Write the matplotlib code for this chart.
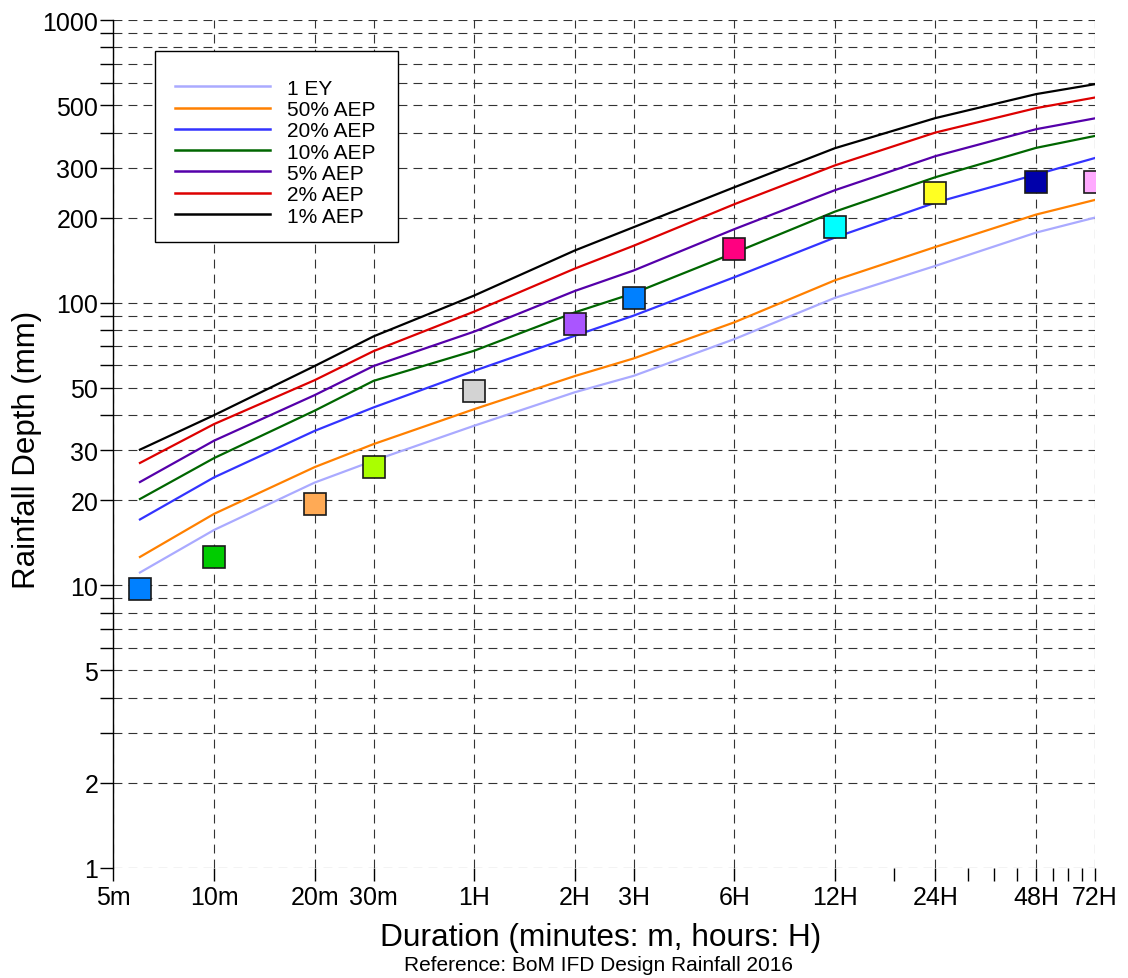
import numpy as np
import matplotlib
matplotlib.use("Agg")
import matplotlib.pyplot as plt
from matplotlib.patches import Rectangle

plt.rcParams['font.family'] = ['Liberation Sans', 'DejaVu Sans']

# durations in minutes
durations = [6, 10, 20, 30, 60, 120, 180, 360, 720, 1440, 2880, 4320]

# design rainfall depths (mm)
ey1 = [11.1, 15.7, 23.1, 27.6, 36.7, 48.2, 55.1, 74.3, 104, 135, 177, 200]
aep50 = [12.6, 17.9, 26.2, 31.6, 42.0, 55.0, 63.5, 85.2, 120, 157.5, 205, 231]
aep20 = [17.1, 24.1, 35.2, 42.6, 57.4, 76.4, 90.0, 123, 170, 226, 284, 325]
aep10 = [20.2, 28.2, 41.5, 52.9, 67.6, 92.4, 108, 150, 210, 278, 353, 389]
aep5 = [23.2, 32.5, 47.1, 59.7, 79.0, 110, 130, 182, 250, 330, 411, 449]
aep2 = [27.1, 37.2, 53.2, 67.4, 93.0, 132, 159, 223, 306, 400, 488, 532]
aep1 = [30.2, 40.0, 59.7, 76.0, 106, 153, 185, 256, 352, 450, 547, 593]

series_names = ['1 EY', '50% AEP', '20% AEP', '10% AEP', '5% AEP', '2% AEP', '1% AEP']
series_vals = [ey1, aep50, aep20, aep10, aep5, aep2, aep1]
series_cols = ['#AAAAFF', '#FF8000', '#3333FF', '#006600', '#5500AA', '#DD0000', '#000000']

# observed maxima (squares)
obs_dur = [6, 10, 20, 30, 60, 120, 180, 360, 720, 1440, 2880, 4320]
obs_val = [9.7, 12.6, 19.4, 26.2, 48.6, 84.2, 104, 155, 186, 245, 268, 268]
obs_col = ['#0080FF', '#00CC00', '#FFAA55', '#AAFF00', '#D3D3D3', '#AA55FF',
           '#0080FF', '#FF0080', '#00FFFF', '#FFFF22', '#0000AA', '#FFAAFF']

xticks = [5, 10, 20, 30, 60, 120, 180, 360, 720, 1440, 2880, 4320]
xlabels = ['5m', '10m', '20m', '30m', '1H', '2H', '3H', '6H', '12H', '24H', '48H', '72H']
xminor = [1080, 1800, 2160, 2520, 3240, 3600, 3960]
yticks = [1, 2, 5, 10, 20, 30, 50, 100, 200, 300, 500, 1000]
yminor = [3, 4, 6, 7, 8, 9, 40, 60, 70, 80, 90, 400, 600, 700, 800, 900]

fig = plt.figure(figsize=(11.28, 9.79), dpi=100)
ax = fig.add_axes([0.1006, 0.1124, 0.8701, 0.8661])
ax.set_xscale('log')
ax.set_yscale('log')
ax.set_xlim(5, 4320)
ax.set_ylim(1, 1000)

ax.set_xticks(xticks)
ax.set_xticklabels(xlabels)
ax.set_xticks(xminor, minor=True)
ax.set_xticklabels([''] * len(xminor), minor=True)
ax.set_yticks(yticks)
ax.set_yticklabels([str(v) for v in yticks])
ax.set_yticks(yminor, minor=True)
ax.set_yticklabels([''] * len(yminor), minor=True)

gstyle = dict(color='#333333', linewidth=0.8, linestyle=(0, (8, 5.5)))
ax.grid(True, which='major', axis='both', **gstyle)
ax.grid(True, which='minor', axis='y', **gstyle)
ax.set_axisbelow(True)

ax.tick_params(which='both', direction='out', length=9.5, width=1, colors='black',
               labelsize=18)
ax.tick_params(axis='y', which='both', pad=1.5)
ax.tick_params(axis='x', which='both', pad=3)
for s in ['top', 'right', 'bottom']:
    ax.spines[s].set_visible(False)
ax.spines['left'].set_linewidth(1)

for name, vals, col in zip(series_names, series_vals, series_cols):
    ax.plot(durations, vals, color=col, lw=1.6, label=name, zorder=3)

for d, v, c in zip(obs_dur, obs_val, obs_col):
    ax.plot(d, v, marker='s', ms=16.5, mfc=c, mec='#1a1a1a', mew=1.2,
            linestyle='none', zorder=5)

# legend box drawn by hand to match the tight row spacing
box = Rectangle((0.0423, 0.738), 0.2476, 0.2256, transform=ax.transAxes,
                facecolor='white', edgecolor='black', lw=1, zorder=6)
ax.add_patch(box)
x0, x1, xt = 0.0627, 0.1595, 0.1768
ytop, dy = 0.9218, 0.0251
for i, (name, col) in enumerate(zip(series_names, series_cols)):
    yy = ytop - i * dy
    ax.plot([x0, x1], [yy, yy], color=col, lw=1.8, transform=ax.transAxes,
            zorder=7, clip_on=False)
    ax.text(xt, yy, name, transform=ax.transAxes, ha='left', va='center_baseline',
            fontsize=15, zorder=7)

fig.text(27 / 1128, 1 - 450 / 979, 'Rainfall Depth (mm)', rotation=90,
         ha='center', va='center', fontsize=22.5)
fig.text(601 / 1128, 1 - 938 / 979, 'Duration (minutes: m, hours: H)',
         ha='center', va='center', fontsize=22.8)
fig.text(598 / 1128, 1 - 966 / 979, 'Reference: BoM IFD Design Rainfall 2016',
         ha='center', va='center', fontsize=15)

fig.savefig('out.png', dpi=100)
